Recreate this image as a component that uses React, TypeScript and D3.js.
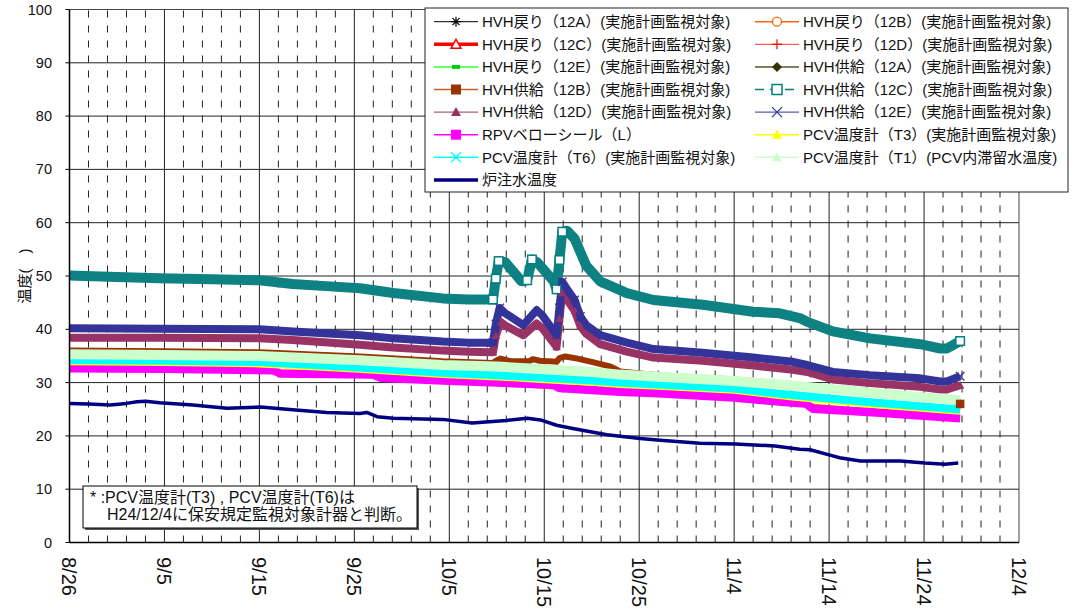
import React from "react";
import * as d3 from "d3";

type P = [number, number];

// ---- axis values ----
const X_TICK_DAYS = [0, 10, 20, 30, 40, 50, 60, 70, 80, 90, 100];
const X_TICK_LABELS = ["8/26", "9/5", "9/15", "9/25", "10/5", "10/15", "10/25", "11/4", "11/14", "11/24", "12/4"];
const X_MINOR_DAYS = d3.range(0, 101, 2);
const Y_TICKS = [0, 10, 20, 30, 40, 50, 60, 70, 80, 90, 100];

// ---- series values: [day offset from 8/26, temperature] ----
const hvhRet12A: P[] = [[0, 34.45], [20, 34.05], [39.3, 32.05], [58, 30.2], [75.6, 27.95], [93.8, 25.15]];
const hvhRet12B: P[] = [[0, 32.6], [20, 32.2], [39.3, 30.3], [58, 28.2], [75.6, 26.2], [93.8, 23.2]];
const hvhRet12C: P[] = [[0, 34.15], [20, 33.75], [39.3, 31.75], [58, 29.9], [75.6, 27.65], [93.8, 24.85]];
const hvhRet12D: P[] = [[0, 35.2], [20, 34.9], [39.3, 33.2], [58, 31.4], [75.6, 29.4], [93.8, 26.6]];
const hvhRet12E: P[] = [[0, 35.0], [20, 34.7], [39.3, 33.0], [58, 31.2], [75.6, 29.2], [93.8, 26.4]];
const hvhSup12A: P[] = [[0, 35.4], [20, 35.1], [39.3, 33.4], [58, 31.6], [75.6, 29.6], [93.8, 26.8]];
const hvhSup12B: P[] = [
  [0, 36.0], [10, 35.9], [20, 35.7], [30.6, 34.9], [39.3, 34.0], [44.6, 33.7], [45.0, 34.2], [45.4, 34.5],
  [46.5, 34.0], [48.4, 34.0], [48.8, 34.4], [49.5, 34.1], [51.3, 33.9], [51.6, 34.6], [52.2, 34.9], [53.5, 34.5],
  [55, 33.9], [57, 33.0], [58, 32.1], [62, 31.4], [70, 30.6], [80, 29.1], [90, 27.5], [92.4, 27.0], [93.8, 26.0],
];
const hvhSup12C: P[] = [
  [0, 50.1], [5, 49.8], [9.5, 49.6], [15, 49.4], [20, 49.2], [23.5, 48.5], [27, 48.1], [30.6, 47.7], [34.1, 46.8],
  [39.3, 45.8], [42, 45.6], [44.6, 45.6], [44.9, 49.5], [45.2, 52.8], [45.9, 52.6], [47.6, 49.0], [48.2, 49.2],
  [48.7, 53.1], [49.3, 52.5], [51.0, 49.0], [51.3, 47.5], [51.6, 53.0], [51.9, 58.3], [52.4, 58.5], [53.2, 57.0],
  [54.4, 52.0], [55.9, 49.0], [58.7, 46.8], [61.5, 45.5], [66.7, 44.6], [72, 43.3], [74.8, 43.0], [76.9, 42.1],
  [77.7, 41.4], [80.4, 39.6], [84.3, 38.3], [89.6, 37.2], [91.7, 36.4], [92.4, 36.4], [93.8, 37.8],
];
const hvhSup12D: P[] = [
  [0, 38.4], [9.5, 38.4], [20, 38.3], [23.5, 38.0], [30.6, 37.1], [34.1, 36.6], [39.3, 36.0], [42, 35.8],
  [44.6, 35.7], [44.9, 38.8], [45.4, 41.4], [46.0, 40.6], [47.8, 38.9], [49.2, 41.1], [49.8, 40.2], [51.3, 36.7],
  [51.6, 42.0], [51.9, 46.8], [52.3, 45.8], [53.2, 43.5], [53.8, 40.6], [54.4, 39.2], [55.9, 37.2], [58.7, 35.8],
  [61.5, 34.7], [66.7, 34.1], [72, 33.2], [76.2, 32.4], [77.7, 32.0], [80.4, 30.6], [84.3, 29.9], [89.6, 29.2],
  [91.7, 28.7], [92.4, 28.7], [93.8, 29.5],
];
const hvhSup12E: P[] = [
  [0, 40.2], [9.5, 40.1], [20, 40.0], [23.5, 39.6], [30.6, 38.9], [34.1, 38.3], [39.3, 37.7], [42, 37.5],
  [44.6, 37.5], [44.9, 41.0], [45.3, 44.0], [45.9, 43.0], [47.8, 40.8], [49.2, 43.6], [49.8, 42.6], [51.3, 38.9],
  [51.6, 44.0], [51.9, 48.9], [52.3, 47.8], [53.2, 45.5], [53.8, 42.4], [54.4, 40.8], [55.9, 38.9], [58.7, 37.5],
  [61.5, 36.3], [66.7, 35.6], [72, 34.7], [76.2, 33.9], [77.7, 33.3], [80.4, 32.0], [84.3, 31.4], [89.6, 30.8],
  [91.7, 30.2], [92.4, 30.2], [93.8, 31.2],
];
const rpvBellows: P[] = [
  [0, 32.7], [10, 32.6], [21.5, 32.3], [22.2, 31.7], [32, 31.5], [32.8, 30.9], [39.3, 30.4], [45, 30.0],
  [51, 29.6], [51.6, 29.0], [58, 28.3], [62, 28.0], [70, 27.2], [75.6, 26.3], [77.5, 26.1], [78.3, 25.1],
  [85, 24.4], [90, 23.8], [93.8, 23.3],
];
const pcvT3: P[] = [
  [0, 34.0], [10, 33.85], [20, 33.6], [30, 32.65], [39.3, 31.6], [45, 31.15], [50, 30.65], [55, 30.15],
  [58, 29.75], [62, 29.4], [70, 28.65], [75.6, 27.5], [80, 26.75], [85, 25.95], [90, 25.25], [93.8, 24.7],
];
const pcvT6: P[] = [
  [0, 34.25], [10, 34.1], [20, 33.85], [30, 32.9], [39.3, 31.85], [45, 31.4], [50, 30.9], [55, 30.4],
  [58, 30.0], [62, 29.65], [70, 28.9], [75.6, 27.75], [80, 27.0], [85, 26.2], [90, 25.5], [93.8, 24.95],
];
const pcvT1: P[] = [
  [0, 35.3], [10, 35.2], [20, 35.0], [30.6, 34.2], [39.3, 33.3], [45, 33.0], [50, 32.5], [55, 32.0],
  [58, 31.5], [62, 31.1], [70, 30.3], [75.6, 29.5], [80, 28.8], [85, 28.0], [90, 27.2], [93.8, 26.7],
];
const injectionWater: P[] = [
  [0, 26.1], [2, 26.0], [4.3, 25.8], [6, 26.1], [7.1, 26.4], [8, 26.5], [9.5, 26.2], [13, 25.8], [16.6, 25.2],
  [20.1, 25.4], [23.5, 24.9], [27.1, 24.4], [30.6, 24.2], [31.3, 24.4], [32.4, 23.6], [34.1, 23.3], [39.3, 23.1],
  [42.4, 22.4], [46, 22.9], [48.2, 23.3], [49.6, 23.0], [51.3, 22.0], [53, 21.4], [56.6, 20.2], [60.1, 19.5],
  [62.2, 19.2], [66.4, 18.6], [70.1, 18.5], [74.3, 18.1], [76.9, 17.5], [78, 17.4], [80.1, 16.4], [81.1, 15.9],
  [83.3, 15.3], [87.5, 15.3], [90.1, 14.9], [92.2, 14.7], [93.6, 14.9],
];

const SERIES_NAMES = [
  "HVH戻り（12A）(実施計画監視対象)",
  "HVH戻り（12B）(実施計画監視対象)",
  "HVH戻り（12C）(実施計画監視対象)",
  "HVH戻り（12D）(実施計画監視対象)",
  "HVH戻り（12E）(実施計画監視対象)",
  "HVH供給（12A）(実施計画監視対象)",
  "HVH供給（12B）(実施計画監視対象)",
  "HVH供給（12C）(実施計画監視対象)",
  "HVH供給（12D）(実施計画監視対象)",
  "HVH供給（12E）(実施計画監視対象)",
  "RPVベローシール（L）",
  "PCV温度計（T3）(実施計画監視対象)",
  "PCV温度計（T6）(実施計画監視対象)",
  "PCV温度計（T1）(PCV内滞留水温度)",
  "炉注水温度",
];
const SERIES_DATA: P[][] = [
  hvhRet12A, hvhRet12B, hvhRet12C, hvhRet12D, hvhRet12E, hvhSup12A, hvhSup12B, hvhSup12C,
  hvhSup12D, hvhSup12E, rpvBellows, pcvT3, pcvT6, pcvT1, injectionWater,
];

type Marker = "asterisk" | "circle" | "triOpen" | "plus" | "dash" | "diamond" | "square" | "squareOpen" | "tri" | "x" | "none";
interface Style {
  color: string; band: number; legendLine: string; legendWidth: number; dash?: string;
  marker: Marker; markerColor: string; jumpMarkers?: boolean; endMarker?: boolean;
}
const STYLES: Style[] = [
  { color: "#000000", band: 3, legendLine: "#000000", legendWidth: 1, marker: "asterisk", markerColor: "#000000" },
  { color: "#ff6600", band: 3, legendLine: "#ff6600", legendWidth: 1.5, marker: "circle", markerColor: "#ff6600" },
  { color: "#ff0000", band: 3, legendLine: "#ff0000", legendWidth: 3.5, marker: "triOpen", markerColor: "#ff0000" },
  { color: "#ff3333", band: 3, legendLine: "#ff3333", legendWidth: 1, marker: "plus", markerColor: "#ff0000" },
  { color: "#66ff66", band: 3, legendLine: "#66ff66", legendWidth: 2, marker: "dash", markerColor: "#00cc00" },
  { color: "#808060", band: 3, legendLine: "#808060", legendWidth: 2, marker: "diamond", markerColor: "#333300" },
  { color: "#993300", band: 6, legendLine: "#c0602a", legendWidth: 1.5, marker: "square", markerColor: "#993300", endMarker: true },
  { color: "#0e8282", band: 10, legendLine: "#008080", legendWidth: 1.5, dash: "9 6", marker: "squareOpen", markerColor: "#008080", jumpMarkers: true, endMarker: true },
  { color: "#993366", band: 8, legendLine: "#993366", legendWidth: 1, marker: "tri", markerColor: "#993366", jumpMarkers: true, endMarker: true },
  { color: "#333399", band: 8, legendLine: "#333399", legendWidth: 1, marker: "x", markerColor: "#333399", jumpMarkers: true, endMarker: true },
  { color: "#ff00ff", band: 8.5, legendLine: "#ff00ff", legendWidth: 1.5, marker: "square", markerColor: "#ff00ff" },
  { color: "#ffff00", band: 8, legendLine: "#ffff00", legendWidth: 1.5, marker: "tri", markerColor: "#ffff00" },
  { color: "#00ffff", band: 8, legendLine: "#00ffff", legendWidth: 1.5, marker: "x", markerColor: "#00ffff" },
  { color: "#ccffcc", band: 10, legendLine: "#ccffcc", legendWidth: 1.5, marker: "tri", markerColor: "#ccffcc" },
  { color: "#000080", band: 3.5, legendLine: "#000080", legendWidth: 3.5, marker: "none", markerColor: "#000080" },
];

const W = 1079, H = 616;
const FONT = "'Liberation Sans', Arial, 'Noto Sans CJK JP', sans-serif";
const x = d3.scaleLinear().domain([0, 100]).range([69.5, 1019]);
const y = d3.scaleLinear().domain([0, 100]).range([542.5, 9.5]);
const line = d3.line<P>().x((d) => x(d[0])).y((d) => y(d[1]));

function MarkerShape({ kind, cx, cy, color, s = 1 }: { kind: Marker; cx: number; cy: number; color: string; s?: number }) {
  const r = 5 * s;
  switch (kind) {
    case "asterisk":
      return (
        <g stroke={color} strokeWidth={1.2}>
          <line x1={cx - r} y1={cy} x2={cx + r} y2={cy} />
          <line x1={cx} y1={cy - r} x2={cx} y2={cy + r} />
          <line x1={cx - r * 0.7} y1={cy - r * 0.7} x2={cx + r * 0.7} y2={cy + r * 0.7} />
          <line x1={cx - r * 0.7} y1={cy + r * 0.7} x2={cx + r * 0.7} y2={cy - r * 0.7} />
        </g>
      );
    case "circle":
      return <circle cx={cx} cy={cy} r={r * 0.9} fill="#fff" stroke={color} strokeWidth={1.3} />;
    case "triOpen":
      return <polygon points={`${cx},${cy - r} ${cx + r},${cy + r * 0.8} ${cx - r},${cy + r * 0.8}`} fill="#fff" stroke={color} strokeWidth={1.5} />;
    case "tri":
      return <polygon points={`${cx},${cy - r} ${cx + r},${cy + r * 0.8} ${cx - r},${cy + r * 0.8}`} fill={color} />;
    case "plus":
      return (
        <g stroke={color} strokeWidth={1.2}>
          <line x1={cx - r} y1={cy} x2={cx + r} y2={cy} />
          <line x1={cx} y1={cy - r} x2={cx} y2={cy + r} />
        </g>
      );
    case "dash":
      return <rect x={cx - 4} y={cy - 2} width={8} height={4} fill={color} />;
    case "diamond":
      return <polygon points={`${cx},${cy - r} ${cx + r},${cy} ${cx},${cy + r} ${cx - r},${cy}`} fill={color} />;
    case "square":
      return <rect x={cx - r} y={cy - r} width={2 * r} height={2 * r} fill={color} />;
    case "squareOpen":
      return <rect x={cx - r} y={cy - r} width={2 * r} height={2 * r} fill="#fff" stroke={color} strokeWidth={1.5} />;
    case "x":
      return (
        <g stroke={color} strokeWidth={1.3}>
          <line x1={cx - r} y1={cy - r} x2={cx + r} y2={cy + r} />
          <line x1={cx - r} y1={cy + r} x2={cx + r} y2={cy - r} />
        </g>
      );
    default:
      return null;
  }
}

export default function App() {
  const legendX = [434, 755];
  const legendRow0 = 21.7, legendDy = 22.6;
  return (
    <svg width={W} height={H} style={{ position: "absolute", left: 0, top: 0, background: "#fff" }} fontFamily={FONT}>
      <rect x={0} y={0} width={W} height={H} fill="#fff" />
      {/* horizontal grid */}
      {Y_TICKS.filter((v) => v > 0 && v < 100).map((v) => (
        <line key={"hg" + v} x1={x(0)} x2={x(100)} y1={y(v)} y2={y(v)} stroke="#222" strokeWidth={1} />
      ))}
      {/* minor dashed verticals */}
      {X_MINOR_DAYS.filter((d) => d % 10 !== 0).map((d) => (
        <line key={"mv" + d} x1={x(d)} x2={x(d)} y1={y(100) + 1} y2={y(0)} stroke="#222" strokeWidth={1} strokeDasharray="7 8" />
      ))}
      {/* major verticals */}
      {X_TICK_DAYS.filter((d) => d > 0 && d < 100).map((d) => (
        <line key={"MV" + d} x1={x(d)} x2={x(d)} y1={y(100)} y2={y(0)} stroke="#222" strokeWidth={1} />
      ))}
      {/* frame */}
      <line x1={x(0)} x2={x(100)} y1={y(100)} y2={y(100)} stroke="#444" strokeWidth={1} />
      <line x1={x(100)} x2={x(100)} y1={y(100)} y2={y(0)} stroke="#444" strokeWidth={1} />
      {/* series */}
      {SERIES_DATA.map((data, i) => {
        const st = STYLES[i];
        return (
          <path key={"s" + i} d={line(data) || ""} fill="none" stroke={st.color} strokeWidth={st.band}
            strokeLinejoin="round" strokeLinecap="butt" />
        );
      })}
      {/* markers at steep changes and line ends */}
      {SERIES_DATA.map((data, i) => {
        const st = STYLES[i];
        const pts: P[] = [];
        if (st.jumpMarkers) {
          data.forEach((p, k) => {
            const prev = k > 0 ? Math.abs(p[1] - data[k - 1][1]) : 0;
            const next = k < data.length - 1 ? Math.abs(p[1] - data[k + 1][1]) : 0;
            if ((prev > 2.5 && p[0] - data[k - 1][0] < 0.6) || (next > 2.5 && data[k + 1][0] - p[0] < 0.6)) pts.push(p);
          });
        }
        if (st.endMarker) pts.push(data[data.length - 1]);
        return (
          <g key={"m" + i}>
            {pts.map((p, k) => (
              <MarkerShape key={k} kind={st.marker} cx={x(p[0])} cy={y(p[1])} color={st.markerColor} s={0.85} />
            ))}
          </g>
        );
      })}
      {/* axes */}
      <line x1={x(0)} x2={x(0)} y1={y(100)} y2={y(0)} stroke="#000" strokeWidth={1.5} />
      <line x1={x(0)} x2={x(100)} y1={y(0)} y2={y(0)} stroke="#000" strokeWidth={1.5} />
      {Y_TICKS.map((v) => (
        <g key={"yt" + v}>
          <line x1={x(0) - 4} x2={x(0)} y1={y(v)} y2={y(v)} stroke="#000" strokeWidth={1} />
          <text x={52} y={y(v)} dy="0.35em" textAnchor="end" fontSize={14.5} fill="#111">{v}</text>
        </g>
      ))}
      {X_TICK_DAYS.map((d, k) => (
        <text key={"xt" + d} transform={`translate(${x(d)},557) rotate(90)`} dy="0.36em" fontSize={20} fill="#111">
          {X_TICK_LABELS[k]}
        </text>
      ))}
      <text transform="translate(25,276) rotate(-90)" textAnchor="middle" dy="0.36em" fontSize={15} fill="#111">温度(　)</text>
      {/* annotation box */}
      <rect x={85} y={488} width={334} height={42} fill="#555" />
      <rect x={83} y={486} width={334} height={42} fill="#fff" stroke="#000" strokeWidth={1} />
      <text x={90} y={503} fontSize={16} fill="#111">* :PCV温度計(T3) , PCV温度計(T6)は</text>
      <text x={107} y={519.5} fontSize={16} fill="#111">H24/12/4に保安規定監視対象計器と判断。</text>
      {/* legend */}
      <rect x={425} y={8} width={643} height={184} fill="#fff" stroke="#222" strokeWidth={1} />
      {SERIES_NAMES.map((name, i) => {
        const st = STYLES[i];
        const col = i % 2, row = Math.floor(i / 2);
        const lx = legendX[col];
        const cy = legendRow0 + row * legendDy;
        return (
          <g key={"lg" + i}>
            <line x1={lx} x2={lx + 44} y1={cy} y2={cy} stroke={st.legendLine} strokeWidth={st.legendWidth} strokeDasharray={st.dash} />
            <MarkerShape kind={st.marker} cx={lx + 22} cy={cy} color={st.markerColor} />
            <text x={lx + 48} y={cy + 5.3} fontSize={15} fill="#111">{name}</text>
          </g>
        );
      })}
    </svg>
  );
}
